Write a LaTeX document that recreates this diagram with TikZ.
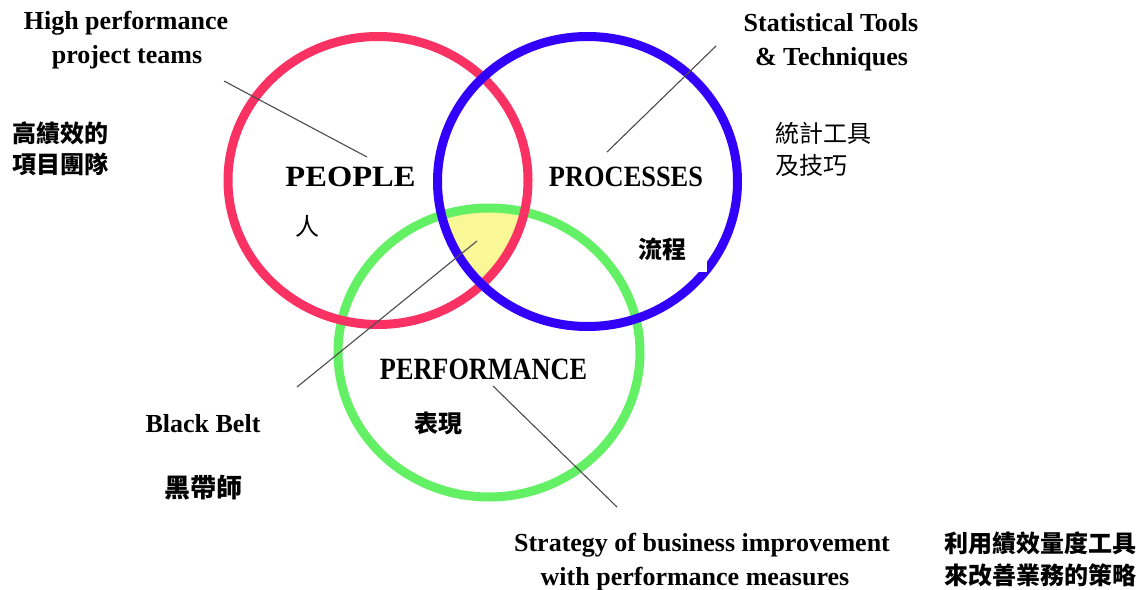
\documentclass[tikz,border=0pt]{standalone}
\usepackage{fontspec}
\usepackage{graphicx}
\setmainfont{Liberation Serif}
\newfontfamily\cjk{Noto Sans CJK TC}
\definecolor{pRed}{RGB}{250,50,100}
\definecolor{pBlue}{RGB}{50,0,250}
\definecolor{pGreen}{RGB}{100,240,100}
\definecolor{pYellow}{RGB}{250,248,150}
\begin{document}
\begin{tikzpicture}[x=1pt,y=-1pt,
  en/.style={font=\bfseries\fontsize{26}{34}\selectfont, inner sep=0pt, anchor=base},
  zh/.style={font=\cjk\bfseries\fontsize{24}{30}\selectfont, inner sep=0pt, anchor=base west},
  zhc/.style={font=\cjk\bfseries\fontsize{24}{30}\selectfont, inner sep=0pt, anchor=base},
  zhl/.style={font=\cjk\fontsize{24}{30}\selectfont, inner sep=0pt, anchor=base west},
  big/.style={inner sep=0pt, anchor=south},
  ring/.style={line width=9pt},
  leader/.style={draw=black!70, line width=1.1pt}]
\useasboundingbox (0,0) rectangle (1148,589);
\fill[white] (0,0) rectangle (1148,589);
% yellow centre
\begin{scope}
  \clip (378,180.5) ellipse [x radius=150pt, y radius=144pt];
  \clip (587.5,181.5) ellipse [x radius=150pt, y radius=145pt];
  \fill[pYellow] (489,352.5) ellipse [x radius=151pt, y radius=144.5pt];
\end{scope}
% rings
\draw[ring, pGreen] (489,352.5) ellipse [x radius=151pt, y radius=144.5pt];
\draw[ring, pRed] (378,180.5) ellipse [x radius=150pt, y radius=144pt];
\draw[ring, pBlue] (587.5,181.5) ellipse [x radius=150pt, y radius=145pt];
% white patch behind 流程
\fill[white] (625,233) rectangle (707,272);
% big labels
\node[big] (people) at (350.5,187) {\resizebox{130pt}{19.5pt}{\bfseries PEOPLE}};
\node[big] (processes) at (626,187) {\resizebox{154pt}{19.5pt}{\bfseries PROCESSES}};
\node[big] (performance) at (483.5,380) {\resizebox{207pt}{20.5pt}{\bfseries PERFORMANCE}};
% english labels
\node[en] (hp1) at (126,29) {High performance};
\node[en] (hp2) at (127,63) {project teams};
\node[en] (st1) at (831,31) {Statistical Tools};
\node[en] (st2) at (831.5,65) {\& Techniques};
\node[en] (bb) at (203,432) {Black Belt};
\node[en] (sb1) at (702,551) {Strategy of business improvement};
\node[en] (sb2) at (695,585) {with performance measures};
% chinese labels
\node[zh] (zhA1) at (12,142) {高績效的};
\node[zh] (zhA2) at (12,173) {項目團隊};
\node[zhl] (zhB1) at (775,142) {統計工具};
\node[zhl] (zhB2) at (775,174) {及技巧};
\node[zhl] (ren) at (295,235) {人};
\node[zhc] (liucheng) at (662,258) {流程};
\node[zhc] (biaoxian) at (438.5,432.5) {表現};
\node[zhc, font=\cjk\bfseries\fontsize{26}{30}\selectfont] (heidai) at (203,497) {黑帶師};
\node[zh] (zhC1) at (944,552) {利用績效量度工具};
\node[zh] (zhC2) at (944,584) {來改善業務的策略};
% leader lines
\coordinate (a1) at (224,81);  \coordinate (a2) at (367,157);
\coordinate (b1) at (716,46);  \coordinate (b2) at (607,152);
\coordinate (c1) at (297,387); \coordinate (c2) at (477,241);
\coordinate (d1) at (493,386); \coordinate (d2) at (617,507);
\draw[leader] (a1) -- (a2);
\draw[leader] (b1) -- (b2);
\draw[leader] (c1) -- (c2);
\draw[leader] (d1) -- (d2);
\end{tikzpicture}
\end{document}
